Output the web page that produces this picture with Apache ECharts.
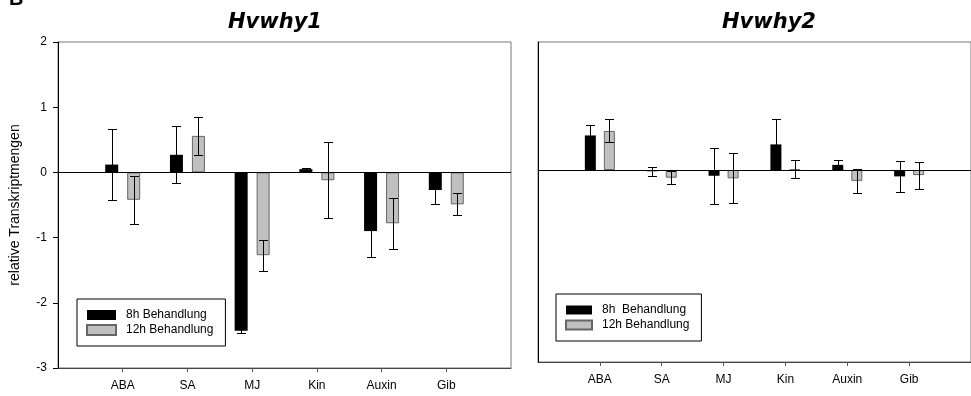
<!DOCTYPE html>
<html><head><meta charset="utf-8">
<script src="https://cdn.jsdelivr.net/npm/echarts@6/dist/echarts.min.js"></script>
<style>html,body{margin:0;padding:0;background:#fff}#c{width:971px;height:396px}</style>
</head><body><div id="c"></div>
<script>
const categories = ['ABA','SA','MJ','Kin','Auxin','Gib'];
const yTicks = [-3, -2, -1, 0, 1, 2];
const why1_8h      = [0.12, 0.27, -2.43, 0.05, -0.90, -0.27];
const why1_8h_err  = [0.55, 0.44, 0.03, 0.01, 0.40, 0.22];
const why1_12h     = [-0.42, 0.56, -1.27, -0.12, -0.78, -0.49];
const why1_12h_err = [0.37, 0.29, 0.235, 0.58, 0.39, 0.17];
const why2_8h      = [0.54, -0.02, -0.09, 0.40, 0.08, -0.10];
const why2_8h_err  = [0.17, 0.07, 0.435, 0.39, 0.07, 0.245];
const why2_12h     = [0.61, -0.12, -0.13, 0.01, -0.17, -0.08];
const why2_12h_err = [0.18, 0.10, 0.39, 0.14, 0.19, 0.21];
const legendLeft  = ['8h Behandlung', '12h Behandlung'];
const legendRight = ['8h  Behandlung', '12h Behandlung'];
const titles = ['Hvwhy1', 'Hvwhy2'];

const FONT = 'Liberation Sans, Arial, sans-serif';
const padded = [''].concat(categories).concat([' ']);
const padVals = v => ['-'].concat(v).concat(['-']);
const showMid = (i) => i > 0 && i < padded.length - 1;

function errSeries(xi, vals, errs, offset) {
  return {
    type: 'custom', xAxisIndex: xi, yAxisIndex: xi, z: 5, silent: true,
    data: vals.map((v, i) => [i + 1, v, errs[i]]),
    renderItem(params, api) {
      const x = api.value(0), v = api.value(1), e = api.value(2);
      const hi = api.coord([x, v + e]), lo = api.coord([x, v - e]);
      const cx = Math.round(hi[0] + offset) + 0.5;
      const yh = Math.round(hi[1]) + 0.5, yl = Math.round(lo[1]) + 0.5;
      const cw = 4.5;
      const style = { stroke: '#000', lineWidth: 1 };
      return { type: 'group', children: [
        { type: 'line', shape: { x1: cx, y1: yh, x2: cx, y2: yl }, style },
        { type: 'line', shape: { x1: cx - cw, y1: yh, x2: cx + cw, y2: yh }, style },
        { type: 'line', shape: { x1: cx - cw, y1: yl, x2: cx + cw, y2: yl }, style }
      ]};
    }
  };
}

const zeroLine = { silent: true, symbol: 'none', label: { show: false },
  lineStyle: { color: '#000', width: 1, type: 'solid' }, data: [{ yAxis: 0 }] };

function xAxis(gi) {
  return { type: 'category', gridIndex: gi, data: padded, boundaryGap: false,
    axisLine: { onZero: false, lineStyle: { color: '#444', width: 1 } },
    axisTick: { interval: showMid, length: 4, lineStyle: { color: '#555' } },
    axisLabel: { interval: showMid, margin: 12, fontFamily: FONT, fontSize: 12, color: '#000' },
    splitLine: { show: false } };
}

const legendBase = { orient: 'vertical', borderColor: '#000', borderWidth: 1,
  icon: 'rect', itemGap: 3, selectedMode: false,
  textStyle: { fontFamily: FONT, fontSize: 12, color: '#000', padding: [0, 0, 0, 5] } };

const TITLE_FONT = 'italic bold 21px "DejaVu Sans"';

const chart = echarts.init(document.getElementById('c'), null, { renderer: 'canvas' });
chart.setOption({
  animation: false,
  backgroundColor: '#fff',
  grid: [
    { left: 58, top: 42, width: 453, height: 326, show: true, borderColor: '#777', borderWidth: 1 },
    { left: 538, top: 42, width: 444.5, height: 320, show: true, borderColor: '#777', borderWidth: 1 }
  ],
  xAxis: [xAxis(0), xAxis(1)],
  yAxis: [
    { type: 'value', gridIndex: 0, min: yTicks[0], max: yTicks[yTicks.length - 1], interval: 1,
      axisLine: { show: true, lineStyle: { color: '#000' } },
      axisTick: { show: true, length: 5, lineStyle: { color: '#000' } },
      axisLabel: { margin: 11, fontFamily: FONT, fontSize: 12, color: '#000' },
      splitLine: { show: false },
      name: 'relative Transkriptmengen', nameLocation: 'middle', nameGap: 36,
      nameTextStyle: { fontFamily: FONT, fontSize: 14, color: '#000' } },
    { type: 'value', gridIndex: 1, min: yTicks[0], max: yTicks[yTicks.length - 1], interval: 1,
      axisLine: { show: true, lineStyle: { color: '#000' } },
      axisTick: { show: false }, axisLabel: { show: false }, splitLine: { show: false } }
  ],
  legend: [
    Object.assign({}, legendBase, { left: 77, top: 299, data: legendLeft,
      padding: [10, 12, 10, 9], itemWidth: 29, itemHeight: 10 }),
    Object.assign({}, legendBase, { left: 556, top: 294, data: legendRight,
      padding: [10, 12, 10, 9], itemWidth: 26, itemHeight: 9 })
  ],
  graphic: [
    { type: 'text', x: 275, y: 23, style: { text: titles[0], font: TITLE_FONT,
      align: 'center', verticalAlign: 'middle', fill: '#000' } },
    { type: 'text', x: 769, y: 23, style: { text: titles[1], font: TITLE_FONT,
      align: 'center', verticalAlign: 'middle', fill: '#000' } },
    { type: 'text', x: 9, y: -1, style: { text: 'B', font: 'bold 20px "Liberation Sans"',
      align: 'left', verticalAlign: 'middle', fill: '#000' } }
  ],
  series: [
    { name: legendLeft[0], type: 'bar', xAxisIndex: 0, yAxisIndex: 0, data: padVals(why1_8h),
      barWidth: 13, barGap: '69%', itemStyle: { color: '#000' }, markLine: zeroLine },
    { name: legendLeft[1], type: 'bar', xAxisIndex: 0, yAxisIndex: 0, data: padVals(why1_12h),
      barWidth: 13, barGap: '69%', itemStyle: { color: '#c0c0c0', borderColor: '#666', borderWidth: 1 } },
    { name: legendRight[0], type: 'bar', xAxisIndex: 1, yAxisIndex: 1, data: padVals(why2_8h),
      barWidth: 11, barGap: '73%', itemStyle: { color: '#000' }, markLine: zeroLine },
    { name: legendRight[1], type: 'bar', xAxisIndex: 1, yAxisIndex: 1, data: padVals(why2_12h),
      barWidth: 11, barGap: '73%', itemStyle: { color: '#c0c0c0', borderColor: '#666', borderWidth: 1 } },
    errSeries(0, why1_8h, why1_8h_err, -11),
    errSeries(0, why1_12h, why1_12h_err, 11),
    errSeries(1, why2_8h, why2_8h_err, -9.5),
    errSeries(1, why2_12h, why2_12h_err, 9.5)
  ]
});
</script></body></html>
